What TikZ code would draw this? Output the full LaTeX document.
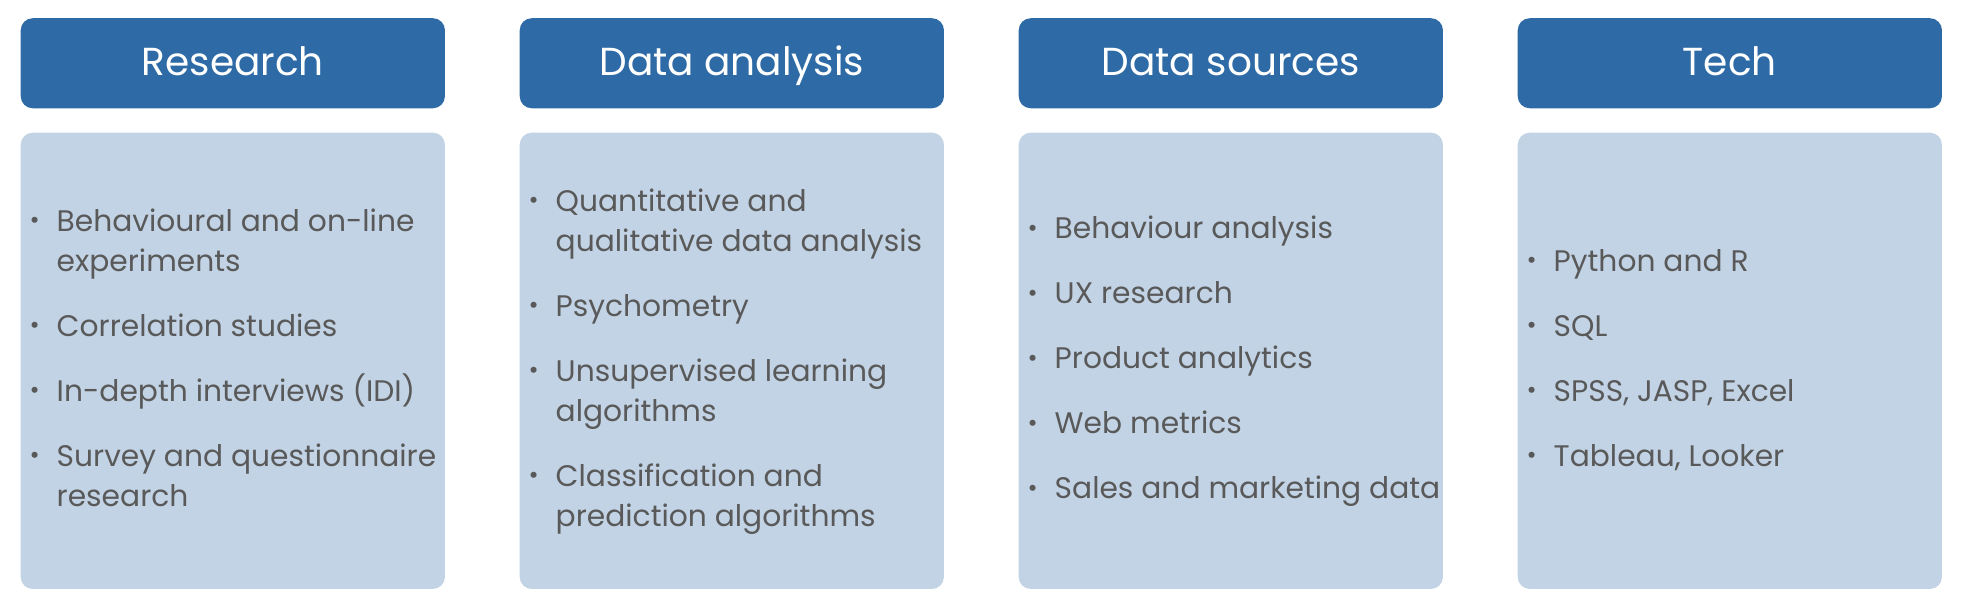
\documentclass[tikz,border=0pt]{standalone}
\usepackage{fontspec}
\setmainfont{Poppins}
\usetikzlibrary{positioning}
\definecolor{headblue}{HTML}{2E6BA6}
\definecolor{boxblue}{HTML}{C2D3E5}
\definecolor{itemgray}{HTML}{595959}
\newcommand{\bul}{\makebox[0.27cm][l]{\scriptsize\raisebox{0.2ex}{\textbullet}}}
\newcommand{\nextitem}{\\[7.1pt]}

\begin{document}
\begin{tikzpicture}[x=0.01cm,y=-0.01cm,
  head/.style={rectangle, rounded corners=0.12cm, fill=headblue, text=white,
    minimum width=4.24cm, minimum height=0.9cm, inner sep=0pt,
    text height=0.72em, text depth=0.02em,
    font=\fontsize{11.1}{13}\selectfont},
  body/.style={rectangle, rounded corners=0.12cm, fill=boxblue,
    minimum width=4.24cm, minimum height=4.56cm, inner sep=0pt},
  items/.style={anchor=west, text=itemgray, inner sep=0pt,
    font=\fontsize{8.45}{11.4}\selectfont}]
\useasboundingbox (0,0) rectangle (1962,608);

% headers and boxes
\foreach \nm/\lbl [count=\i from 0] in {res/Research, ana/Data analysis, src/Data sources, tec/Tech}{
  \node[head, anchor=north west] (\nm head) at (20+499*\i,17.5) {\lbl};
  \node[body, below=0.23cm of \nm head] (\nm body) {};
}

% lists
\node[items] (reslist) at ([xshift=0.09cm]resbody.west) {\begin{tabular}{@{}l@{}l@{}}
  \bul & Behavioural and on-line\\
       & experiments\nextitem
  \bul & Correlation studies\nextitem
  \bul & In-depth interviews (IDI)\nextitem
  \bul & Survey and questionnaire\\
       & research
\end{tabular}};
\node[items] (analist) at ([xshift=0.09cm]anabody.west) {\begin{tabular}{@{}l@{}l@{}}
  \bul & Quantitative and\\
       & qualitative data analysis\nextitem
  \bul & Psychometry\nextitem
  \bul & Unsupervised learning\\
       & algorithms\nextitem
  \bul & Classification and\\
       & prediction algorithms
\end{tabular}};
\node[items] (srclist) at ([xshift=0.09cm]srcbody.west) {\begin{tabular}{@{}l@{}l@{}}
  \bul & Behaviour analysis\nextitem
  \bul & UX research\nextitem
  \bul & Product analytics\nextitem
  \bul & Web metrics\nextitem
  \bul & Sales and marketing data
\end{tabular}};
\node[items] (teclist) at ([xshift=0.09cm]tecbody.west) {\begin{tabular}{@{}l@{}l@{}}
  \bul & Python and R\nextitem
  \bul & SQL\nextitem
  \bul & SPSS, JASP, Excel\nextitem
  \bul & Tableau, Looker
\end{tabular}};
\end{tikzpicture}
\end{document}
